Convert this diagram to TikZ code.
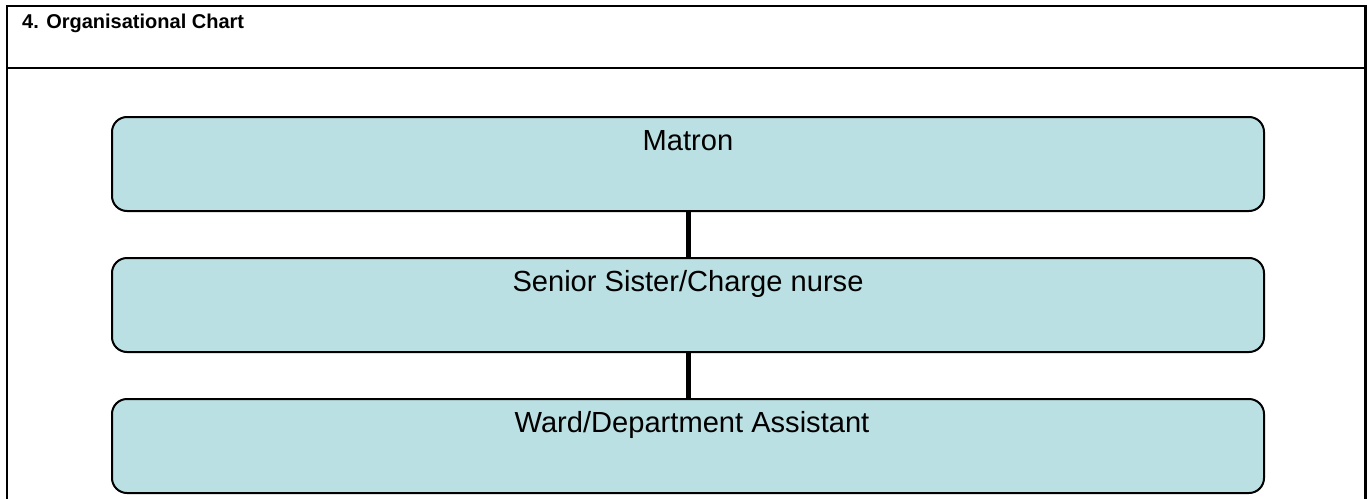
\documentclass[tikz,border=0pt]{standalone}
\usepackage{fontspec}
\setmainfont{Liberation Sans}
\definecolor{boxfill}{HTML}{BBE0E3}
\begin{document}
\begin{tikzpicture}[x=1pt,y=-1pt,
  orgbox/.style={draw=black,line width=2pt,fill=boxfill,rounded corners=15pt,
    minimum width=1152pt,minimum height=94pt,inner sep=0pt,anchor=north west},
  orglabel/.style={font=\fontsize{29.1}{32}\selectfont,anchor=base},
  frameline/.style={line width=2.2pt,line cap=rect},
  link/.style={line width=5pt}]
\useasboundingbox (0,0) rectangle (1367,498);
% frame
\draw[frameline] (7,498) -- (7,6) -- (1365.5,6) -- (1365.5,498);
\draw[frameline] (7,68) -- (1365.5,68);
\node[font=\bfseries\fontsize{20}{24}\selectfont,anchor=base west,inner sep=0pt] (title) at (22,28) {4. Organisational Chart};
% boxes
\node[orgbox] (matron) at (111,116) {};
\node[orgbox] (senior) at (111,257) {};
\node[orgbox] (ward) at (111,398) {};
\node[orglabel] (tm) at ([yshift=-34pt]matron.north) {Matron};
\node[orglabel] (ts) at ([yshift=-34pt]senior.north) {Senior Sister/Charge nurse};
\node[orglabel] (tw) at ([yshift=-34pt,xshift=4pt]ward.north) {Ward/Department Assistant};
% connectors
\draw[link] (matron.south) -- (senior.north);
\draw[link] (senior.south) -- (ward.north);
\end{tikzpicture}
\end{document}
